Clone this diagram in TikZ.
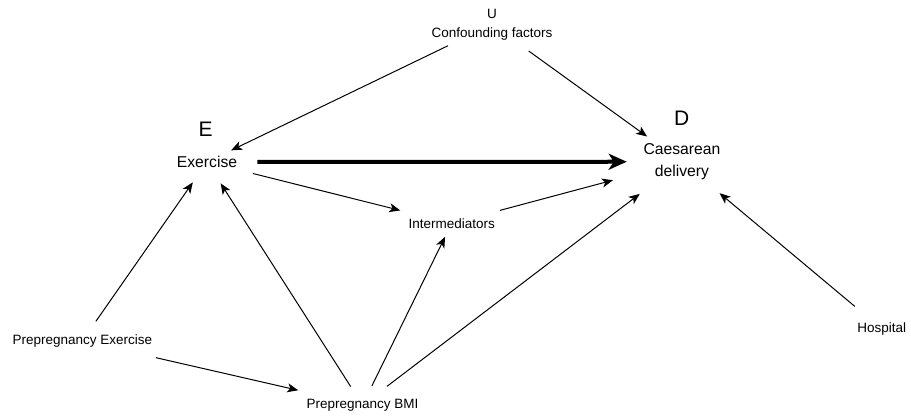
\documentclass[tikz,border=0pt]{standalone}
\usepackage{fontspec}
\setmainfont{Liberation Sans}
\usetikzlibrary{arrows.meta}

\begin{document}
\begin{tikzpicture}[x=1pt, y=-1pt,
		every node/.style={inner sep=0pt, align=center},
		lbl/.style={font=\fontsize{13.5}{19}\selectfont},
		var/.style={font=\fontsize{15.7}{22.4}\selectfont},
		sym/.style={font=\fontsize{21}{25}\selectfont},
		arr/.style={line width=1pt, -{Stealth[length=11pt, width=9pt, inset=3pt]}},
		main/.style={line width=4pt, -{Stealth[length=18pt, width=16pt, inset=5pt]}}]
			\useasboundingbox (0, 0) rectangle (911, 418);

			\node[lbl] (u) at (492, 24.5) {U\\Confounding factors};
			\node[sym] (e) at (205.7, 129.3) {E};
			\node[var] (ex) at (207, 162) {Exercise};
			\node[sym] (d) at (681.7, 118.3) {D};
			\node[var] (cd) at (682, 161.7) {Caesarean\\delivery};
			\node[lbl] (im) at (451.7, 223.3) {Intermediators};
			\node[lbl] (pe) at (82.3, 340.8) {Prepregnancy Exercise};
			\node[lbl] (bmi) at (362.5, 405) {Prepregnancy BMI};
			\node[lbl] (hos) at (881.8, 329) {Hospital};

			\draw (u.center) edge[arr, shorten <=48.9pt, shorten >=26.8pt] (ex.center);
			\draw (u.center) edge[arr, shorten <=45.3pt, shorten >=43pt] (cd.center);
			\draw (ex.center) edge[main, shorten <=50.3pt, shorten >=55.3pt] (cd.center);
			\draw (ex.center) edge[arr, shorten <=47.2pt, shorten >=53pt] (im.center);
			\draw (im.center) edge[arr, shorten <=49.9pt, shorten >=71.5pt] (cd.center);
			\draw (pe.center) edge[arr, shorten <=23.7pt, shorten >=24.8pt] (ex.center);
			\draw (pe.center) edge[arr, shorten <=75.6pt, shorten >=65.9pt] (bmi.center);
			\draw (bmi.center) edge[arr, shorten <=21.9pt, shorten >=25.3pt] (ex.center);
			\draw (bmi.center) edge[arr, shorten <=21.4pt, shorten >=15pt] (im.center);
			\draw (bmi.center) edge[arr, shorten <=30.8pt, shorten >=53.1pt] (cd.center);
			\draw (hos.center) edge[arr, shorten <=35.2pt, shorten >=49pt] (cd.center);
		\end{tikzpicture}
\end{document}
